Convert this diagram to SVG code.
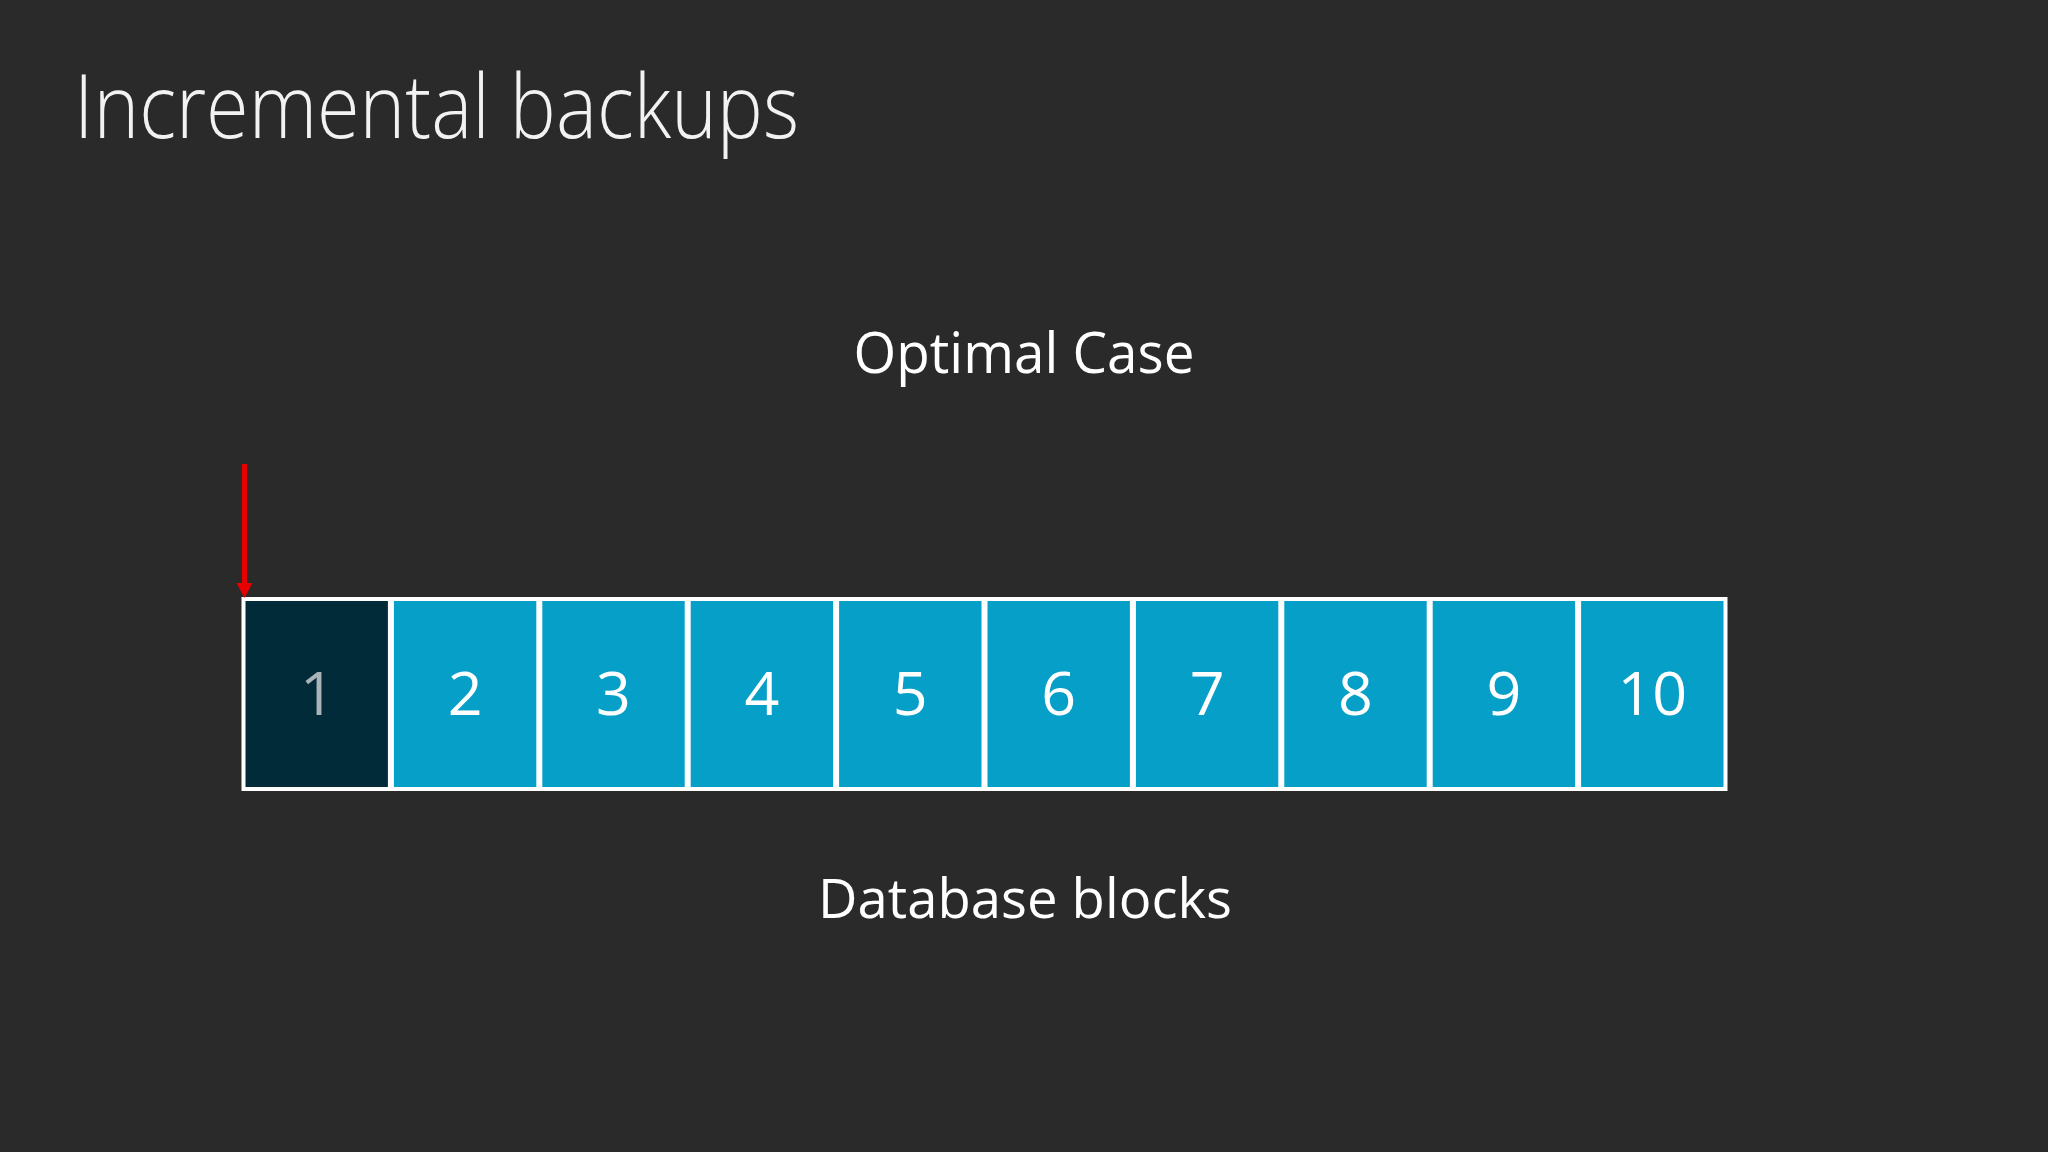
<svg xmlns="http://www.w3.org/2000/svg" width="2048" height="1152" viewBox="0 0 2048 1152">
<defs>
<style>
.title{font-family:"Open Sans","Noto Sans","Liberation Sans",sans-serif;font-weight:300;fill:#f2f2f2}
.label{font-family:"Open Sans","Noto Sans","Liberation Sans",sans-serif;font-weight:400;fill:#ffffff;text-anchor:middle}
.blk{fill:#069fc7;stroke:#ffffff;stroke-width:4}
.blk-dark{fill:#022b39;stroke:#ffffff;stroke-width:4}
.num{font-family:"Open Sans","Noto Sans","Liberation Sans",sans-serif;font-size:61px;fill:#ffffff;text-anchor:middle}
.num-dim{fill:#aab3b8}
</style>
</defs>
<rect width="2048" height="1152" fill="#2a2a2a"/>
<text class="title" x="74" y="138" font-size="88" textLength="725" lengthAdjust="spacingAndGlyphs">Incremental backups</text>
<text class="label" x="1024" y="373" font-size="56" textLength="341" lengthAdjust="spacingAndGlyphs">Optimal Case</text>
<g id="block1"><rect class="blk-dark" x="243.5" y="599" width="146.4" height="190"/><text class="num num-dim" x="317.5" y="715">1</text></g>
<g id="block2"><rect class="blk" x="391.9" y="599" width="146.4" height="190"/><text class="num" x="465.1" y="715">2</text></g>
<g id="block3"><rect class="blk" x="540.3" y="599" width="146.4" height="190"/><text class="num" x="613.5" y="715">3</text></g>
<g id="block4"><rect class="blk" x="688.7" y="599" width="146.4" height="190"/><text class="num" x="761.9" y="715">4</text></g>
<g id="block5"><rect class="blk" x="837.1" y="599" width="146.4" height="190"/><text class="num" x="910.3" y="715">5</text></g>
<g id="block6"><rect class="blk" x="985.5" y="599" width="146.4" height="190"/><text class="num" x="1058.7" y="715">6</text></g>
<g id="block7"><rect class="blk" x="1133.9" y="599" width="146.4" height="190"/><text class="num" x="1207.1" y="715">7</text></g>
<g id="block8"><rect class="blk" x="1282.3" y="599" width="146.4" height="190"/><text class="num" x="1355.5" y="715">8</text></g>
<g id="block9"><rect class="blk" x="1430.7" y="599" width="146.4" height="190"/><text class="num" x="1503.9" y="715">9</text></g>
<g id="block10"><rect class="blk" x="1579.1" y="599" width="146.4" height="190"/><text class="num" x="1652.3" y="715">10</text></g>
<g id="connectors">
<line x1="244.5" y1="464" x2="244.5" y2="586" stroke="#e80000" stroke-width="5"/>
<polygon points="236.5,583 252.5,583 244.5,598" fill="#e80000"/>
</g>
<text class="label" x="1025" y="918" font-size="55" textLength="414" lengthAdjust="spacingAndGlyphs">Database blocks</text>
</svg>
